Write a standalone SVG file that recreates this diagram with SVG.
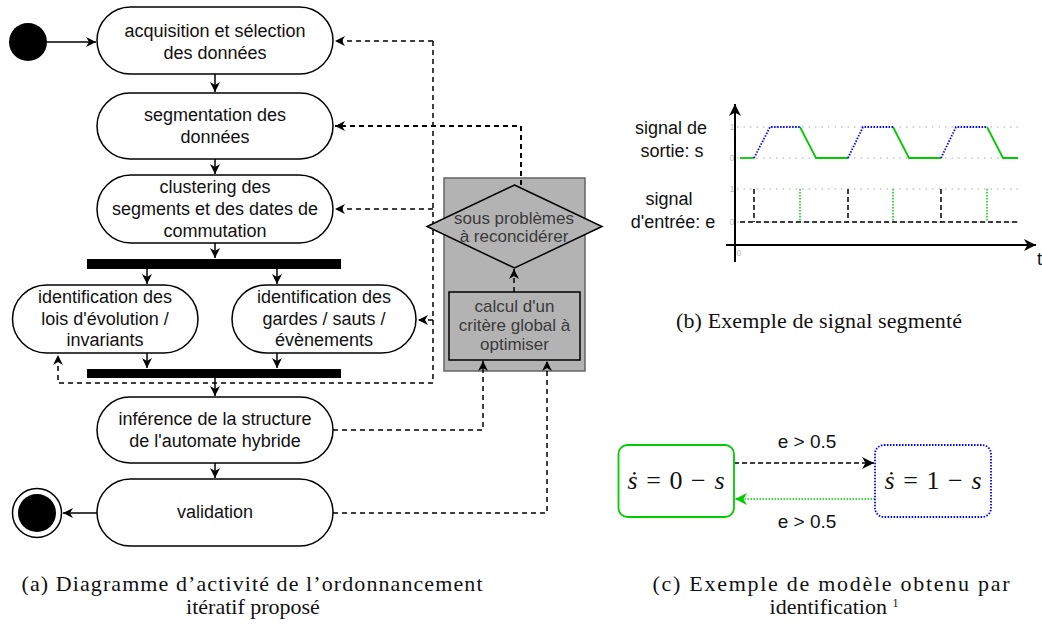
<svg xmlns="http://www.w3.org/2000/svg" width="1042" height="625" viewBox="0 0 1042 625">
<style>
.node{fill:#fff;stroke:#000;stroke-width:1.5}
.t{font-family:"Liberation Sans",Arial,sans-serif;font-size:18px;fill:#111;text-anchor:middle}
.tg{font-family:"Liberation Sans",Arial,sans-serif;font-size:17px;fill:#3a3a3a;text-anchor:middle}
.cap{font-family:"Liberation Serif","Times New Roman",serif;font-size:22px;fill:#111;text-anchor:middle}
.solid{fill:none;stroke:#000;stroke-width:1.5}
.dash{fill:none;stroke:#000;stroke-width:1.5;stroke-dasharray:5 4}
.grid{fill:none;stroke:#aaa;stroke-width:1.2;stroke-dasharray:1.5 5}
.tick{font-family:"Liberation Sans",Arial,sans-serif;font-size:9px;fill:#bbb;text-anchor:middle}
.math{font-family:"Liberation Serif","Times New Roman",serif;font-size:26px;fill:#111;text-anchor:middle}
</style>
<defs>
<marker id="arr" markerUnits="userSpaceOnUse" markerWidth="12" markerHeight="12" viewBox="0 0 12 12" refX="10" refY="5" orient="auto"><path d="M0,0 L10,5 L0,10 L3,5 z" fill="#000"/></marker>
<marker id="arrG" markerUnits="userSpaceOnUse" markerWidth="14" markerHeight="14" viewBox="0 0 14 14" refX="12" refY="6" orient="auto"><path d="M0,0 L12,6 L0,12 L3.5,6 z" fill="#00cc00"/></marker>
<marker id="arrB" markerUnits="userSpaceOnUse" markerWidth="14" markerHeight="14" viewBox="0 0 14 14" refX="12" refY="6" orient="auto"><path d="M0,0 L12,6 L0,12 L3.5,6 z" fill="#000"/></marker>
</defs>

<!-- grey container -->
<g id="container">
<rect x="444" y="178" width="141" height="193" fill="#b3b3b3" stroke="#666" stroke-width="1.5"/>
</g>

<g id="connectors">
<line class="solid" x1="47" y1="42" x2="96" y2="42" marker-end="url(#arr)"/>
<line class="solid" x1="215" y1="74" x2="215" y2="92" marker-end="url(#arr)"/>
<line class="solid" x1="215" y1="159" x2="215" y2="174" marker-end="url(#arr)"/>
<line class="solid" x1="215" y1="243" x2="215" y2="258" marker-end="url(#arr)"/>
<line class="solid" x1="147" y1="269" x2="147" y2="284" marker-end="url(#arr)"/>
<line class="solid" x1="277" y1="269" x2="277" y2="284" marker-end="url(#arr)"/>
<line class="solid" x1="147" y1="353" x2="147" y2="368" marker-end="url(#arr)"/>
<line class="solid" x1="277" y1="353" x2="277" y2="368" marker-end="url(#arr)"/>
<line class="solid" x1="215" y1="378" x2="215" y2="396" marker-end="url(#arr)"/>
<line class="solid" x1="215" y1="463" x2="215" y2="478" marker-end="url(#arr)"/>
<line class="solid" x1="97" y1="513" x2="63" y2="513" marker-end="url(#arr)"/>
<!-- dashed feedback -->
<path class="dash" d="M433,41 V383 H58 V355" marker-end="url(#arr)"/>
<line class="dash" x1="433" y1="41" x2="335" y2="41" marker-end="url(#arr)"/>
<line class="dash" x1="433" y1="209" x2="335" y2="209" marker-end="url(#arr)"/>
<line class="dash" x1="433" y1="320" x2="418" y2="320" marker-end="url(#arr)"/>
<path class="dash" style="stroke-width:2" d="M521,185 V126 H335" marker-end="url(#arr)"/>
<line class="dash" x1="514" y1="292" x2="514" y2="269" marker-end="url(#arr)"/>
<path class="dash" d="M333,430 H483 V361" marker-end="url(#arr)"/>
<path class="dash" d="M333,513 H547 V361" marker-end="url(#arr)"/>
</g>

<g id="start"><circle cx="28" cy="42" r="19" fill="#000"/></g>

<g id="n1">
<rect class="node" x="97" y="7" width="236" height="67" rx="33.5"/>
<text class="t" x="215" y="37">acquisition et sélection</text>
<text class="t" x="215" y="59">des données</text>
</g>
<g id="n2">
<rect class="node" x="97" y="93" width="236" height="66" rx="33"/>
<text class="t" x="215" y="121">segmentation des</text>
<text class="t" x="215" y="143">données</text>
</g>
<g id="n3">
<rect class="node" x="97" y="175" width="236" height="68" rx="34"/>
<text class="t" x="215" y="193">clustering des</text>
<text class="t" x="215" y="215">segments et des dates de</text>
<text class="t" x="215" y="237">commutation</text>
</g>
<g id="fork"><rect x="87" y="259" width="254" height="10" fill="#000"/></g>
<g id="n4">
<rect class="node" x="12.5" y="285" width="185.5" height="68" rx="34"/>
<text class="t" x="105" y="303">identification des</text>
<text class="t" x="105" y="324.5">lois d'évolution /</text>
<text class="t" x="105" y="346">invariants</text>
</g>
<g id="n5">
<rect class="node" x="232" y="285" width="184" height="68" rx="34"/>
<text class="t" x="324" y="303">identification des</text>
<text class="t" x="324" y="324.5">gardes / sauts /</text>
<text class="t" x="324" y="346">évènements</text>
</g>
<g id="join"><rect x="87" y="369" width="254" height="9" fill="#000"/></g>
<g id="n6">
<rect class="node" x="97" y="397" width="236" height="66" rx="33"/>
<text class="t" x="215" y="425">inférence de la structure</text>
<text class="t" x="215" y="447">de l'automate hybride</text>
</g>
<g id="n7">
<rect class="node" x="97" y="479" width="236" height="67" rx="33.5"/>
<text class="t" x="215" y="518">validation</text>
</g>
<g id="end">
<circle cx="37" cy="513" r="24.5" fill="#fff" stroke="#000" stroke-width="1.5"/>
<circle cx="37" cy="513" r="19" fill="#000"/>
</g>

<g id="diamond">
<polygon points="514.5,185 602,226.5 514.5,268 427,226.5" fill="#b3b3b3" stroke="#000" stroke-width="1.5"/>
<text class="tg" x="514" y="224">sous problèmes</text>
<text class="tg" x="514" y="242">à reconcidérer</text>
</g>
<g id="calc">
<rect x="449" y="292" width="131" height="68" fill="#b3b3b3" stroke="#000" stroke-width="1.5"/>
<text class="tg" x="514.5" y="312">calcul d'un</text>
<text class="tg" x="514.5" y="331">critère global à</text>
<text class="tg" x="514.5" y="350">optimiser</text>
</g>

<g id="caption-a">
<text class="cap" x="252" y="591" textLength="461" lengthAdjust="spacing">(a) Diagramme d’activité de l’ordonnancement</text>
<text class="cap" x="253" y="614">itératif proposé</text>
</g>

<!-- signal chart -->
<g id="chart">
<line class="grid" x1="737" y1="127" x2="1023" y2="127"/>
<line class="grid" x1="737" y1="158" x2="1023" y2="158"/>
<line class="grid" x1="737" y1="189" x2="1023" y2="189"/>
<line class="grid" x1="737" y1="222" x2="1023" y2="222"/>
<text class="tick" x="732" y="130">1</text>
<text class="tick" x="732" y="161">0</text>
<text class="tick" x="732" y="192">1</text>
<text class="tick" x="732" y="225">0</text>
<text class="tick" x="739" y="256">0</text>
<line x1="735" y1="262" x2="735" y2="104" stroke="#000" stroke-width="2" marker-end="url(#arrB)"/>
<line x1="726" y1="245" x2="1036" y2="245" stroke="#000" stroke-width="2" marker-end="url(#arrB)"/>
<text class="t" x="1037" y="265" style="text-anchor:start;font-size:18px">t</text>
<g fill="none" stroke="#00cc00" stroke-width="1.8">
<polyline points="740,158 754,158"/>
<polyline points="800,127 816,158 848,158"/>
<polyline points="893,127 909,158 941,158"/>
<polyline points="987,127 1003,158 1018,158"/>
</g>
<g fill="none" stroke="#0000ff" stroke-width="1.8" stroke-dasharray="1.5 1.5">
<polyline points="754,158 770,127 800,127"/>
<polyline points="848,158 863,127 893,127"/>
<polyline points="941,158 956,127 987,127"/>
</g>
<g fill="none" stroke="#000" stroke-width="1.5" stroke-dasharray="5 3">
<line x1="740" y1="222" x2="1018" y2="222"/>
<line x1="754" y1="189" x2="754" y2="222"/>
<line x1="848" y1="189" x2="848" y2="222"/>
<line x1="941" y1="189" x2="941" y2="222"/>
</g>
<g fill="none" stroke="#00cc00" stroke-width="1.5" stroke-dasharray="1.5 1.5">
<line x1="800" y1="189" x2="800" y2="222"/>
<line x1="893" y1="189" x2="893" y2="222"/>
<line x1="987" y1="189" x2="987" y2="222"/>
</g>
<text class="t" x="671" y="134">signal de</text>
<text class="t" x="672" y="157">sortie: s</text>
<text class="t" x="669" y="205">signal</text>
<text class="t" x="673" y="228">d'entrée: e</text>
</g>
<g id="caption-b">
<text class="cap" x="819" y="328" textLength="286" lengthAdjust="spacing">(b) Exemple de signal segmenté</text>
</g>

<!-- model -->
<g id="m-connectors">
<line x1="734" y1="463" x2="874" y2="463" stroke="#000" stroke-width="1.5" stroke-dasharray="5 3" marker-end="url(#arrB)"/>
<line x1="875" y1="499" x2="735" y2="499" stroke="#00cc00" stroke-width="1.5" stroke-dasharray="1.5 1.5" marker-end="url(#arrG)"/>
<text class="t" x="807" y="448" style="font-size:19px">e &gt; 0.5</text>
<text class="t" x="807" y="528" style="font-size:19px">e &gt; 0.5</text>
</g>
<g id="s0">
<rect x="618.5" y="445" width="115.5" height="72" rx="9" fill="#fff" stroke="#00cc00" stroke-width="1.8"/>
<text class="math" x="676" y="489" textLength="97" lengthAdjust="spacing"><tspan font-style="italic">ṡ</tspan> = 0 − <tspan font-style="italic">s</tspan></text>
</g>
<g id="s1">
<rect x="875" y="445" width="116" height="72" rx="9" fill="#fff" stroke="#0000ff" stroke-width="1.8" stroke-dasharray="1.5 1.5"/>
<text class="math" x="933" y="489" textLength="97" lengthAdjust="spacing"><tspan font-style="italic">ṡ</tspan> = 1 − <tspan font-style="italic">s</tspan></text>
</g>
<g id="caption-c">
<text class="cap" x="831" y="591" textLength="357" lengthAdjust="spacing">(c) Exemple de modèle obtenu par</text>
<text class="cap" x="834" y="614">identification <tspan font-size="12" dy="-7">1</tspan></text>
</g>
</svg>
